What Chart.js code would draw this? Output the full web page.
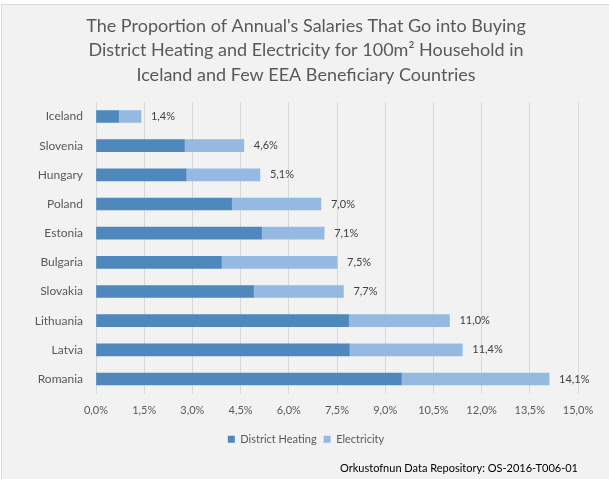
<!DOCTYPE html>
<html lang="en">
  <head>
    <meta charset="UTF-8" />
    <script src="https://cdn.jsdelivr.net/npm/chart.js"></script>
    <title>Annual salaries for heating and electricity</title>
    <style>
      body { margin: 0; background: #fff; }
      .frame {
        position: absolute; left: 1px; top: 4px; width: 620px; height: 490px;
        background: #f2f2f2; border: 1px solid #d9d9d9;
      }
      #myChart { position: absolute; left: 0; top: 0; }
    </style>
  </head>
  <body>
    <div class="frame"></div>
    <canvas id="myChart" width="609" height="479"></canvas>

    <script>
      const paises = ["Iceland", "Slovenia", "Hungary", "Poland", "Estonia",
        "Bulgaria", "Slovakia", "Lithuania", "Latvia", "Romania"];
      const aquecimento = [0.7, 2.75, 2.8, 4.22, 5.15, 3.9, 4.9, 7.86, 7.88, 9.5];
      const eletricidade = [0.7, 1.85, 2.3, 2.78, 1.95, 3.6, 2.8, 3.14, 3.52, 4.6];
      const totais = ["1,4%", "4,6%", "5,1%", "7,0%", "7,1%", "7,5%", "7,7%", "11,0%", "11,4%", "14,1%"];

      const fonte = "Lato";

      // escreve o total ao lado de cada barra
      const rotuloTotal = {
        id: "rotuloTotal",
        afterDatasetsDraw(chart) {
          const ctx = chart.ctx;
          const meta = chart.getDatasetMeta(1);
          ctx.save();
          ctx.font = "11px " + fonte;
          ctx.fillStyle = "#404040";
          ctx.textBaseline = "middle";
          meta.data.forEach(function (bar, i) {
            ctx.fillText(totais[i], bar.x + 10, bar.y);
          });
          ctx.restore();
        },
      };

      const data = {
        labels: paises,
        datasets: [
          {
            label: "District Heating",
            backgroundColor: "#4e88bd",
            data: aquecimento,
          },
          {
            label: "Electricity",
            backgroundColor: "#95b9e1",
            data: eletricidade,
          },
        ],
      };

      const config = {
        type: "bar",
        data: data,
        options: {
          indexAxis: "y",
          responsive: false,
          animation: false,
          barThickness: 12,
          layout: { padding: { left: 34, right: 31, top: 0, bottom: 4 } },
          scales: {
            x: {
              stacked: true,
              min: 0,
              max: 15,
              ticks: {
                stepSize: 1.5,
                padding: 10,
                color: "#595959",
                font: { family: fonte, size: 11 },
                callback: function (v) {
                  return v.toFixed(1).replace(".", ",") + "%";
                },
              },
              grid: { color: "#d9d9d9", drawTicks: false },
              border: { display: false },
            },
            y: {
              stacked: true,
              ticks: {
                padding: 13,
                color: "#595959",
                font: { family: fonte, size: 12 },
              },
              grid: { display: false, drawTicks: false },
              border: { display: false },
              afterFit: function (axis) {
                axis.width = 62;
              },
            },
          },
          plugins: {
            title: {
              display: true,
              text: [
                "The Proportion of Annual's Salaries That Go into Buying",
                "District Heating and Electricity for 100m\u00b2 Household in",
                "Iceland and Few EEA Beneficiary Countries",
              ],
              color: "#595959",
              font: { family: fonte, size: 18, weight: "normal", lineHeight: 1.35 },
              padding: { top: 14, bottom: 15 },
            },
            subtitle: {
              display: true,
              position: "bottom",
              align: "end",
              text: "Orkustofnun Data Repository: OS-2016-T006-01",
              color: "#000",
              font: { family: fonte, size: 11 },
              padding: { top: 7, bottom: 0 },
            },
            legend: {
              position: "bottom",
              labels: {
                boxWidth: 7,
                boxHeight: 7,
                padding: 7,
                color: "#595959",
                font: { family: fonte, size: 11 },
              },
            },
            tooltip: { enabled: false },
          },
        },
        plugins: [rotuloTotal],
      };

      const myChart = new Chart(document.getElementById("myChart"), config);
    </script>
  </body>
</html>
